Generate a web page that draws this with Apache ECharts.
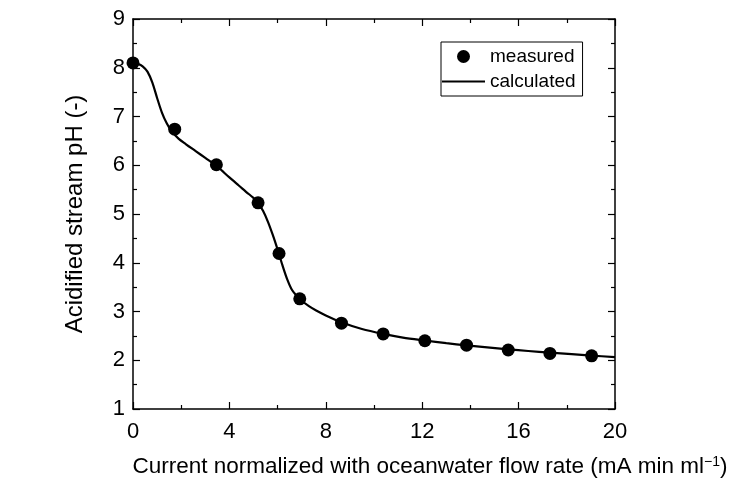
<!DOCTYPE html>
<html>
<head>
<meta charset="utf-8">
<script src="https://cdn.jsdelivr.net/npm/echarts@6/dist/echarts.min.js"></script>
<style>
html,body{margin:0;padding:0;background:#fff;}
#main{width:743px;height:496px;}
</style>
</head>
<body>
<div id="main"></div>
<script>
// measured points
var measX=[0,1.73,3.46,5.19,6.06,6.92,8.65,10.38,12.11,13.84,15.57,17.30,19.03];
var measPH=[8.10,6.74,6.01,5.23,4.19,3.26,2.76,2.54,2.40,2.31,2.21,2.14,2.09];
// calculated curve
var calcX=[0,0.2,0.4,0.6,0.8,1.0,1.2,1.4,1.6,1.9,2.2,2.6,3.0,3.5,4.0,4.4,4.8,5.0,5.2,5.4,5.6,5.8,6.0,6.2,6.4,6.6,6.8,7.0,7.3,7.6,8.0,8.65,9.5,10.38,11.2,12.11,13,13.84,14.7,15.57,16.4,17.3,18.2,19.03,20];
var calcPH=[8.10,8.08,8.03,7.92,7.70,7.38,7.08,6.86,6.70,6.54,6.43,6.29,6.15,5.97,5.75,5.58,5.41,5.33,5.22,5.06,4.84,4.57,4.27,3.95,3.66,3.44,3.32,3.22,3.11,3.02,2.92,2.78,2.64,2.54,2.465,2.405,2.35,2.305,2.265,2.225,2.19,2.155,2.125,2.095,2.065];
var xTicks={min:0,max:20,interval:4};
var yTicks={min:1,max:9,interval:1};

function pairs(xs,ys){
    var out=[];
    for(var i=0;i<xs.length;i++){out.push([xs[i],ys[i]]);}
    return out;
}
var font='Liberation Sans, Arial, sans-serif';
function frameAxis(pos,range,labels){
    return {
        type:'value',position:pos,min:range.min,max:range.max,interval:range.interval,
        axisLine:{show:true,onZero:false,lineStyle:{color:'#000',width:1.5}},
        axisTick:{show:true,inside:true,length:7,lineStyle:{color:'#000',width:1.2}},
        minorTick:{show:true,splitNumber:2,length:4,lineStyle:{color:'#000',width:1.2}},
        splitLine:{show:false},
        axisLabel:{show:labels,color:'#000',fontSize:22,fontFamily:font,margin:pos=='bottom'?12:8}
    };
}
var xBottom=frameAxis('bottom',xTicks,true);
xBottom.name='Current normalized with oceanwater flow rate (mA min ml{sup|\u22121})';
xBottom.nameLocation='middle';
xBottom.nameGap=46;
xBottom.nameTextStyle={color:'#000',fontSize:22.5,fontFamily:font,padding:[0,0,0,112],
    rich:{sup:{fontSize:14,fontFamily:font,color:'#000',verticalAlign:'top',padding:[0,0,10,0]}}};
var yLeft=frameAxis('left',yTicks,true);
yLeft.name='Acidified stream pH (-)';
yLeft.nameLocation='middle';
yLeft.nameGap=46;
yLeft.nameTextStyle={color:'#000',fontSize:24,fontFamily:font};

var myChart=echarts.init(document.getElementById('main'));
var option={
    backgroundColor:'#fff',
    animation:false,
    grid:{left:133,right:128,top:19,bottom:87},
    legend:{
        orient:'vertical',left:441,top:42,
        padding:[5,7,5,1],itemGap:6,itemWidth:43,itemHeight:13,
        borderColor:'#000',borderWidth:1,
        textStyle:{color:'#000',fontSize:19,fontFamily:font},
        data:[
            {name:'measured',icon:'circle'},
            {name:'calculated',icon:'path://M0,0H43V2.2H0Z'}
        ]
    },
    xAxis:[xBottom,frameAxis('top',xTicks,false)],
    yAxis:[yLeft,frameAxis('right',yTicks,false)],
    series:[
        {
            name:'calculated',type:'line',data:pairs(calcX,calcPH),
            symbol:'none',smooth:0.3,
            lineStyle:{color:'#000',width:2.2},itemStyle:{color:'#000'},z:2
        },
        {
            name:'measured',type:'scatter',data:pairs(measX,measPH),
            symbol:'circle',symbolSize:13,itemStyle:{color:'#000',opacity:1},z:3
        }
    ]
};
myChart.setOption(option);
</script>
</body>
</html>
